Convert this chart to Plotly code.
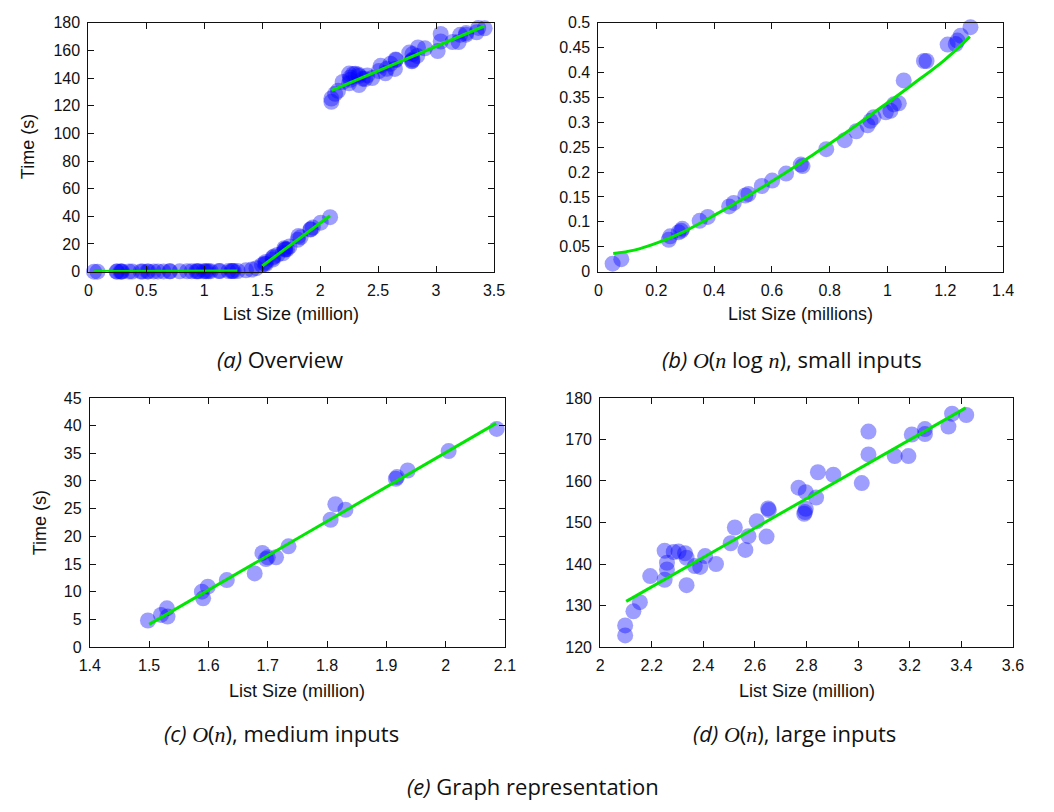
import plotly.graph_objects as go

W, H = 1054, 812

# ---------------- data ----------------
# (b) small inputs, O(n log n)
small_x = [0.049, 0.079, 0.243, 0.248, 0.277, 0.286, 0.290, 0.350, 0.378, 0.452, 0.468,
           0.508, 0.519, 0.565, 0.601, 0.649, 0.700, 0.706, 0.788, 0.852, 0.892, 0.931,
           0.941, 0.952, 0.994, 1.010, 1.022, 1.039, 1.056, 1.126, 1.135, 1.208, 1.236,
           1.242, 1.253, 1.287]
small_y = [0.016, 0.025, 0.064, 0.071, 0.079, 0.082, 0.086, 0.102, 0.110, 0.131, 0.138,
           0.153, 0.156, 0.172, 0.183, 0.197, 0.215, 0.212, 0.246, 0.264, 0.282, 0.294,
           0.303, 0.310, 0.320, 0.323, 0.336, 0.338, 0.384, 0.423, 0.423, 0.456, 0.457,
           0.464, 0.474, 0.491]
small_fit_x = [0.051, 0.124, 0.203, 0.294, 0.406, 0.519, 0.632, 0.745, 0.858, 0.971,
               1.084, 1.197, 1.285]
small_fit_y = [0.0367, 0.0433, 0.0577, 0.080, 0.115, 0.153, 0.193, 0.236, 0.280, 0.327,
               0.375, 0.425, 0.472]

# (c) medium inputs, O(n)
med_x = [1.498, 1.520, 1.530, 1.531, 1.589, 1.591, 1.599, 1.631, 1.678, 1.691, 1.697,
         1.700, 1.714, 1.735, 1.806, 1.814, 1.831, 1.916, 1.918, 1.936, 2.005, 2.086]
med_y = [4.8, 5.8, 7.0, 5.5, 10.0, 8.8, 10.9, 12.1, 13.3, 17.0, 15.9,
         16.2, 16.2, 18.2, 23.0, 25.8, 24.8, 30.4, 30.7, 31.9, 35.4, 39.4]
med_fit_x = [1.500, 2.085]
med_fit_y = [4.1, 40.4]

# (d) large inputs, O(n)
large_x = [2.097, 2.097, 2.129, 2.154, 2.194, 2.250, 2.259, 2.259, 2.250, 2.285, 2.304,
           2.329, 2.335, 2.335, 2.367, 2.388, 2.407, 2.449, 2.506, 2.522, 2.563, 2.575,
           2.607, 2.645, 2.651, 2.654, 2.769, 2.797, 2.791, 2.794, 2.797, 2.837, 2.844,
           2.904, 3.014, 3.040, 3.040, 3.142, 3.195, 3.208, 3.259, 3.259, 3.350, 3.364,
           3.419]
large_y = [122.8, 125.2, 128.6, 130.8, 137.1, 143.2, 140.3, 138.7, 136.2, 142.9, 143.0,
           142.6, 141.5, 134.9, 139.5, 139.3, 141.9, 140.0, 145.0, 148.8, 143.4, 146.7,
           150.3, 146.6, 153.4, 153.0, 158.4, 157.3, 152.1, 152.5, 153.3, 156.0, 162.1,
           161.5, 159.5, 171.9, 166.4, 166.0, 166.0, 171.2, 172.5, 171.3, 173.1, 176.2,
           175.9]
large_fit_x = [2.101, 3.417]
large_fit_y = [131.0, 177.6]

# extra points only visible in the overview (between small and medium ranges)
extra_x = [1.36, 1.41, 1.45]
extra_y = [1.0, 1.5, 2.5]

# tick settings per panel
panels = {
    "a": dict(xr=[0, 3.5], xd=0.5, yr=[0, 180], yd=20, box=(79, 493.3, 15, 269.3)),
    "b": dict(xr=[0, 1.4], xd=0.2, yr=[0, 0.5], yd=0.05, box=(600, 1013.3, 15, 269.3)),
    "c": dict(xr=[1.4, 2.1], xd=0.1, yr=[0, 45], yd=5, box=(80.5, 504.5, 398.3, 652.7)),
    "d": dict(xr=[2, 3.6], xd=0.2, yr=[120, 180], yd=10, box=(601.7, 1023.3, 398.3, 652.7)),
}

PT = "rgba(0,0,255,0.38)"
GREEN = "#00e600"
MSIZE = 16

fig = go.Figure()


def pts(x, y, ax):
    return go.Scatter(x=x, y=y, mode="markers", xaxis="x" + ax, yaxis="y" + ax,
                      marker=dict(size=MSIZE, color=PT, line=dict(width=0)),
                      cliponaxis=False, showlegend=False, hoverinfo="skip")


def fit(x, y, ax, shape="linear"):
    return go.Scatter(x=x, y=y, mode="lines", xaxis="x" + ax, yaxis="y" + ax,
                      line=dict(color=GREEN, width=3, shape=shape),
                      showlegend=False, hoverinfo="skip")


# overview (a)
fig.add_trace(pts(small_x + extra_x + med_x + large_x, small_y + extra_y + med_y + large_y, ""))
fig.add_trace(fit(small_fit_x, small_fit_y, ""))
fig.add_trace(fit(med_fit_x, med_fit_y, ""))
fig.add_trace(fit(large_fit_x, large_fit_y, ""))
# (b)
fig.add_trace(pts(small_x, small_y, "2"))
fig.add_trace(fit(small_fit_x, small_fit_y, "2", "spline"))
# (c)
fig.add_trace(pts(med_x, med_y, "3"))
fig.add_trace(fit(med_fit_x, med_fit_y, "3"))
# (d)
fig.add_trace(pts(large_x, large_y, "4"))
fig.add_trace(fit(large_fit_x, large_fit_y, "4"))

TICKFONT = dict(family="Liberation Sans, Arial, sans-serif", size=16, color="#111")
layout = {}
for i, key in enumerate(["a", "b", "c", "d"]):
    p = panels[key]
    l, r, t, b = p["box"]
    sfx = "" if i == 0 else str(i + 1)
    common = dict(showline=True, linecolor="#111", linewidth=1, mirror="allticks",
                  ticks="inside", ticklen=6, tickcolor="#111", tickwidth=1,
                  showgrid=False, zeroline=False, tickfont=TICKFONT, fixedrange=True)
    layout["xaxis" + sfx] = dict(domain=[l / W, r / W], range=p["xr"], dtick=p["xd"],
                                 tick0=p["xr"][0], anchor="y" + sfx,
                                 ticklabelstandoff=4, **common)
    layout["yaxis" + sfx] = dict(domain=[1 - b / H, 1 - t / H], range=p["yr"], dtick=p["yd"],
                                 tick0=p["yr"][0], anchor="x" + sfx,
                                 ticklabelstandoff=4, **common)

fig.update_layout(**layout)

AXFONT = dict(family="Liberation Sans, Arial, sans-serif", size=18, color="#111")
CAPFONT = dict(family="Open Sans, Noto Sans, sans-serif", size=22, color="#111")
MATH = "<span style='font-family:Liberation Serif'><i>{}</i></span>"

annots = [
    # axis titles
    dict(x=286, y=313, text="List Size (million)", font=AXFONT),
    dict(x=806.6, y=313, text="List Size (millions)", font=AXFONT),
    dict(x=292.5, y=698, text="List Size (million)", font=AXFONT),
    dict(x=812.5, y=698, text="List Size (million)", font=AXFONT),
    dict(x=17.5, y=142, text="Time (s)", font=AXFONT, textangle=-90),
    dict(x=30, y=526, text="Time (s)", font=AXFONT, textangle=-90),
    # captions
    dict(x=275, y=359, text="<i>(a)</i> Overview", font=CAPFONT),
    dict(x=798, y=359, text="<i>(b)</i> " + MATH.format("O") + "(" + MATH.format("n")
         + " log " + MATH.format("n") + "), small inputs", font=CAPFONT),
    dict(x=276, y=740, text="<i>(c)</i> " + MATH.format("O") + "(" + MATH.format("n")
         + "), medium inputs", font=CAPFONT),
    dict(x=800, y=740, text="<i>(d)</i> " + MATH.format("O") + "(" + MATH.format("n")
         + "), large inputs", font=CAPFONT),
    dict(x=533, y=795, text="<i>(e)</i> Graph representation", font=CAPFONT),
]
ann_list = []
for a in annots:
    d = dict(a)
    d["x"] = a["x"] / W
    d["y"] = 1 - a["y"] / H
    d.update(xref="paper", yref="paper", xanchor="center", yanchor="middle",
             showarrow=False)
    ann_list.append(d)

fig.update_layout(width=W, height=H, margin=dict(l=0, r=0, t=0, b=0),
                  paper_bgcolor="white", plot_bgcolor="white",
                  annotations=ann_list, showlegend=False)

fig.write_html("out.html", config={"displayModeBar": False})
